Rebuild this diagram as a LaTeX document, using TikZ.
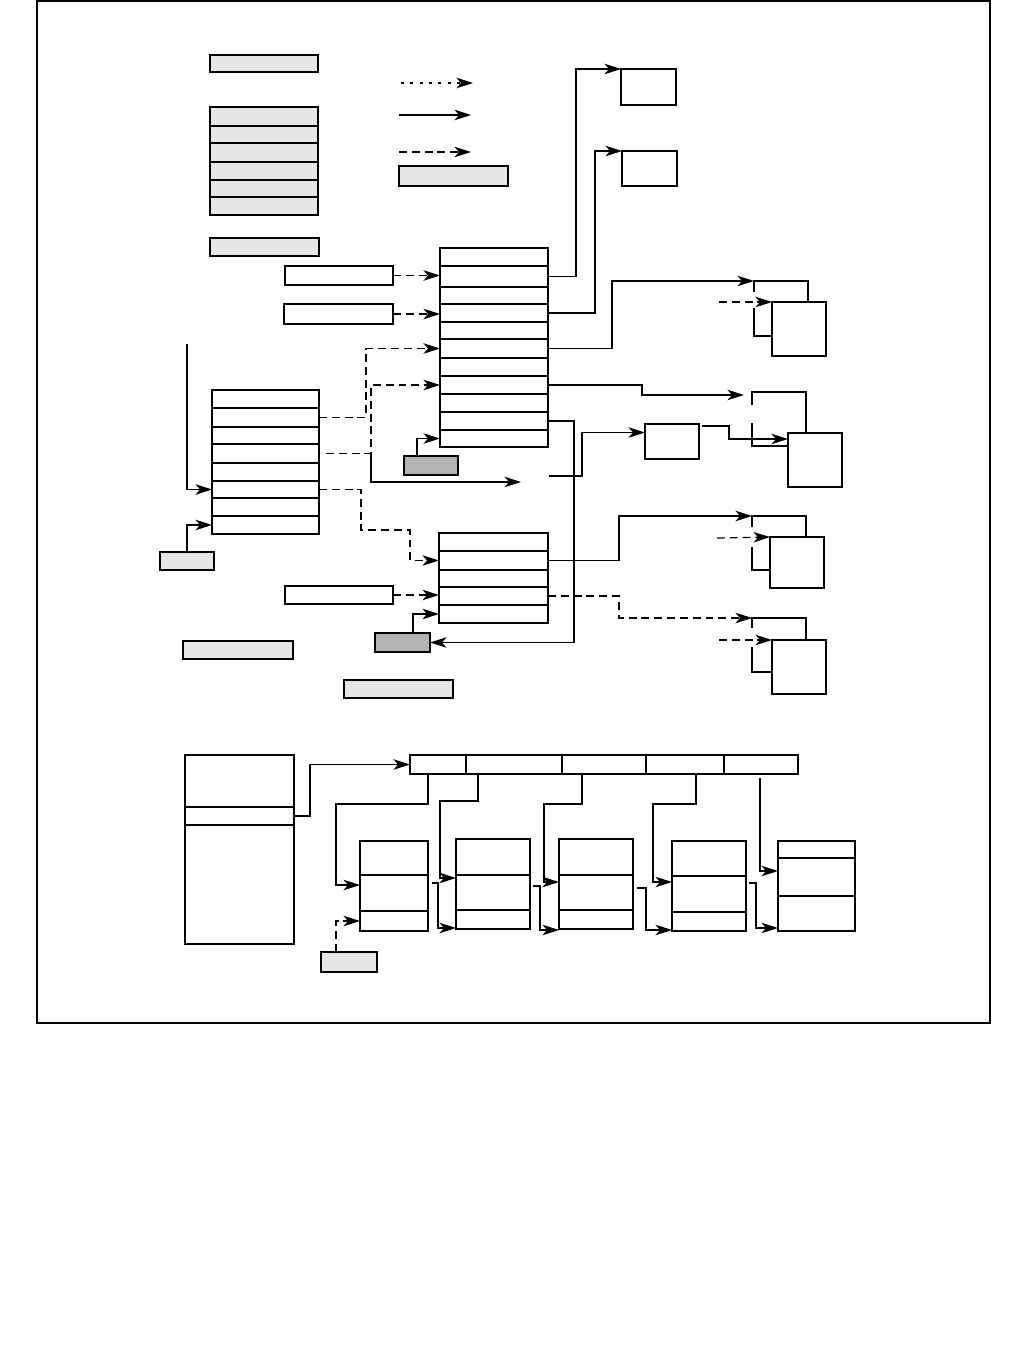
\documentclass[tikz,border=0pt]{standalone}
\usepackage{tikz}
\usepackage{xcolor}
\usetikzlibrary{arrows.meta,positioning,calc,fit}
\definecolor{ink}{HTML}{000000}
\definecolor{keygray}{HTML}{E6E6E6}
\definecolor{markgray}{HTML}{B3B3B3}
\tikzset{
  cellbox/.style={draw=ink,fill=white,line width=0.7pt,inner sep=0pt,outer sep=0pt},
  keybox/.style={cellbox,fill=keygray},
  markbox/.style={cellbox,fill=markgray},
  backbox/.style={inner sep=0pt,outer sep=0pt},
  wire/.style={line width=0.7pt,color=ink},
  solidarr/.style={wire,-{Stealth[length=3.3mm,width=2.1mm,inset=0.9mm]}},
  dasharr/.style={solidarr,dash pattern=on 4.5pt off 2.8pt},
  dotarr/.style={solidarr,dash pattern=on 1.7pt off 3.6pt}
}
\begin{document}
\begin{tikzpicture}[x=0.02cm,y=-0.02cm]
  \useasboundingbox (0,0) rectangle (1026,1365);
  \draw[wire] (37,1) rectangle (990,1023);
  \node[keybox,fit={(210,55) (318,72)}] (key1) {};
  \foreach \n/\ya/\yb in {1/107/126,2/126/143,3/143/162,4/162/180,5/180/197,6/197/215}
    \node[keybox,fit={(210,\ya) (318,\yb)}] (keyrow\n) {};
  \draw[wire,line width=1.2pt] (keyrow1.south west) -- (keyrow1.south east);
  \node[keybox,fit={(210,238) (319,256)}] (key3) {};
  \node[keybox,fit={(399,166) (508,186)}] (key4) {};
  \coordinate (k1a) at (401,83); \coordinate (k1b) at (473,83);
  \coordinate (k2a) at (399,115); \coordinate (k2b) at (471,115);
  \coordinate (k3a) at (399,152); \coordinate (k3b) at (471,152);
  \draw[dotarr] (k1a) -- (k1b);
  \draw[solidarr] (k2a) -- (k2b);
  \draw[dasharr] (k3a) -- (k3b);
  \node[cellbox,fit={(621,69) (676,105)}] (ba) {};
  \node[cellbox,fit={(622,151) (677,186)}] (bb) {};
  \foreach \n/\ya/\yb in {1/248/266,2/266/287,3/287/304,4/304/322,5/322/339,6/339/358,7/358/376,8/376/394,9/394/412,10/412/430,11/430/447}
    \node[cellbox,fit={(440,\ya) (548,\yb)}] (t\n) {};
  \foreach \n/\ya/\yb in {1/390/408,2/408/427,3/427/444,4/444/463,5/463/481,6/481/498,7/498/516,8/516/534}
    \node[cellbox,fit={(212,\ya) (319,\yb)}] (l\n) {};
  \foreach \n/\ya/\yb in {1/533/551,2/551/570,3/570/587,4/587/605,5/605/623}
    \node[cellbox,fit={(439,\ya) (548,\yb)}] (s\n) {};
  \draw[wire,line width=1.3pt] (s2.north east) -- (s4.south east);
  \node[cellbox,fit={(285,266) (393,285)}] (in1) {};
  \node[cellbox,fit={(284,304) (393,324)}] (in2) {};
  \node[cellbox,fit={(285,586) (393,604)}] (in3) {};
  \node[markbox,fit={(404,456) (458,475)}] (d1) {};
  \node[markbox,fit={(375,633) (430,652)}] (d2) {};
  \node[keybox,fit={(160,552) (214,570)}] (key5) {};
  \node[keybox,fit={(183,641) (293,659)}] (key6) {};
  \node[keybox,fit={(344,680) (453,698)}] (key8) {};
  \node[cellbox,fit={(645,424) (699,459)}] (m) {};
  \node[backbox,fit={(754,281) (808,336)}] (r1b) {};
  \node[backbox,fit={(752,392) (806,446)}] (r2b) {};
  \node[backbox,fit={(752,516) (806,570)}] (r3b) {};
  \node[backbox,fit={(752,618) (806,672)}] (r4b) {};
  \foreach \b/\u/\l in {r1b/11/28,r2b/13/23,r3b/11/23,r4b/10/25} {
    \draw[wire] ($(\b.north west)+(0,\u)$) -- (\b.north west) -- (\b.north east) -- (\b.south east);
    \draw[wire] ($(\b.south west)+(0,-\l)$) -- (\b.south west) -- (\b.south east);
  }
  \node[cellbox,fit={(772,302) (826,356)}] (r1f) {};
  \node[cellbox,fit={(788,433) (842,487)}] (r2f) {};
  \node[cellbox,fit={(770,537) (824,588)}] (r3f) {};
  \node[cellbox,fit={(772,640) (826,694)}] (r4f) {};
  \coordinate (feed) at (187,344);
  \coordinate (gapend) at (521,482);
  \coordinate (gapstart) at (549,476);
  \coordinate (r1in) at (719,302);
  \coordinate (r3in) at (717,538);
  \coordinate (r4in) at (719,640);
  \draw[dasharr] (in1.east) -- (in1.east -| t2.west);
  \draw[dasharr] (in2.east) -- (in2.east -| t4.west);
  \draw[dasharr] (in3.east) -- (in3.east -| s4.west);
  \draw[dasharr] (l2.east) -- ++(47,0) |- (t6.west);
  \draw[dasharr] (l4.east) ++(7,0) -- ++(45,0) coordinate (fork) |- (t8.west);
  \draw[solidarr] (fork) |- (gapend);
  \draw[dasharr] (l6.east) -- ++(42,0) |- (410,530) |- (s2.west);
  \draw[solidarr] (feed) |- (l6.west);
  \draw[solidarr] (key5.north) |- (l8.west);
  \draw[solidarr] ($(d1.north west)+(13,0)$) |- (t11.west);
  \draw[solidarr] ($(d2.north west)+(38,0)$) |- (s5.west);
  \draw[solidarr] (t10.east) -- ++(26,0) |- (d2.east);
  \draw[solidarr] (t2.east) -- ++(28,0) |- (ba.north west);
  \draw[solidarr] (t4.east) -- ++(47,0) |- (bb.north west);
  \draw[solidarr] (t6.east) -- ++(64,0) |- (r1b.north west);
  \draw[solidarr] (t8.east) -- ++(94,0) |- ($(r2b.north west)+(-8,3)$);
  \draw[solidarr] (gapstart) -- ++(33,0) |- ($(m.west)+(0,-9)$);
  \draw[solidarr] ($(m.north east)+(3,2)$) -- ++(27,0) |- ($(r2f.north west)+(0,6)$);
  \draw[solidarr] (s2.east) -- ++(71,0) |- (r3b.north west);
  \draw[dasharr] (s4.east) -- ++(71,0) |- (r4b.north west);
  \draw[dasharr] (r1in) -- (r1f.north west);
  \draw[dasharr] (r3in) -- (r3f.north west);
  \draw[dasharr] (r4in) -- (r4f.north west);
  \node[cellbox,fit={(185,755) (294,807)}] (heap1) {};
  \node[cellbox,fit={(185,807) (294,825)}] (heap2) {};
  \node[cellbox,fit={(185,825) (294,944)}] (heap3) {};
  \foreach \n/\xa/\xb in {1/410/466,2/466/562,3/562/646,4/646/724,5/724/798}
    \node[cellbox,fit={(\xa,755) (\xb,774)}] (slot\n) {};
  \foreach \n/\xa/\xb/\ya/\yb/\yc/\yd in {1/360/428/841/875/911/931,2/456/530/839/875/910/929,3/559/633/839/875/910/929,4/672/746/841/876/912/931,5/778/855/841/858/896/931} {
    \node[cellbox,fit={(\xa,\ya) (\xb,\yb)}] (rec\n-top) {};
    \node[cellbox,fit={(\xa,\yb) (\xb,\yc)}] (rec\n-mid) {};
    \node[cellbox,fit={(\xa,\yc) (\xb,\yd)}] (rec\n-bot) {};
  }
  \node[keybox,fit={(321,952) (377,972)}] (key7) {};
  \draw[solidarr] (heap2.east) -- ++(16,0) |- (slot1.west);
  \draw[solidarr] ($(slot1.south west)+(18,0)$) -- ++(0,30) -| ($(rec1-mid.north west)+(-24,10)$) -- ($(rec1-mid.north west)+(0,10)$);
  \draw[solidarr] ($(slot2.south west)+(12,0)$) -- ++(0,27) -| ($(rec2-mid.north west)+(-16,3)$) -- ($(rec2-mid.north west)+(0,3)$);
  \draw[solidarr] ($(slot3.south west)+(20,0)$) -- ++(0,30) -| ($(rec3-mid.north west)+(-15,7)$) -- ($(rec3-mid.north west)+(0,7)$);
  \draw[solidarr] ($(slot4.south west)+(50,0)$) -- ++(0,30) -| ($(rec4-mid.north west)+(-19,6)$) -- ($(rec4-mid.north west)+(0,6)$);
  \draw[solidarr] ($(slot5.south west)+(36,4)$) |- ($(rec5-mid.north west)+(0,13)$);
  \draw[solidarr] ($(rec1-mid.north east)+(4,8)$) -- ++(6,0) |- ($(rec2-bot.south west)+(0,-1)$);
  \draw[solidarr] ($(rec2-mid.north east)+(3,11)$) -- ++(7,0) |- ($(rec3-bot.south west)+(0,1)$);
  \draw[solidarr] ($(rec3-mid.north east)+(4,13)$) -- ++(9,0) |- ($(rec4-bot.south west)+(0,-1)$);
  \draw[solidarr] ($(rec4-mid.north east)+(3,7)$) -- ++(7,0) |- ($(rec5-bot.south west)+(0,-3)$);
  \draw[dasharr] ($(key7.north west)+(15,0)$) |- (rec1-bot.west);
\end{tikzpicture}
\end{document}
